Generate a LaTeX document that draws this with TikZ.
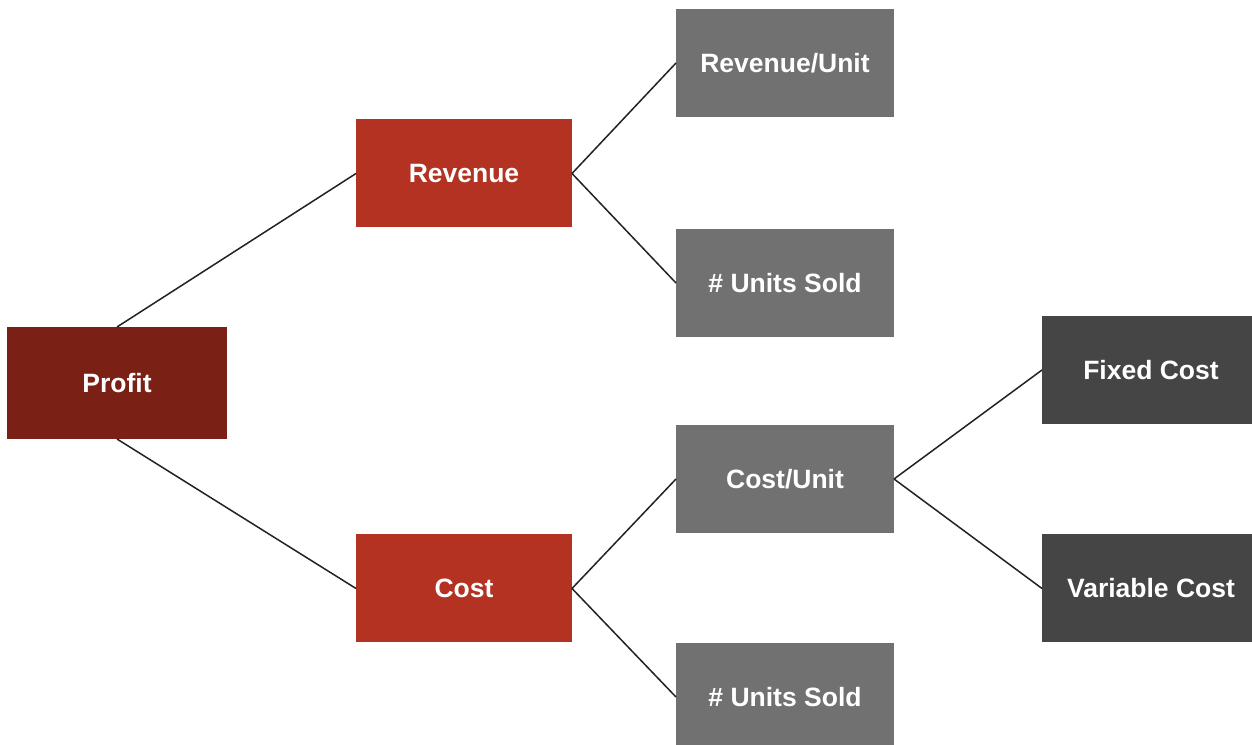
\documentclass[tikz,border=0pt]{standalone}
\usepackage{fontspec}
\setmainfont{Liberation Sans}
\definecolor{profitred}{HTML}{7B2014}
\definecolor{midred}{HTML}{B33222}
\definecolor{midgray}{HTML}{717171}
\definecolor{darkgray}{HTML}{454545}
\definecolor{linegray}{HTML}{222222}
\begin{document}
\begin{tikzpicture}[x=1pt,y=1pt,
  box/.style={rectangle, inner sep=0pt, outer sep=0pt, minimum width=218pt, minimum height=108pt,
    text=white, font=\fontsize{26.5}{30}\selectfont\bfseries},
  lvlzero/.style={box, fill=profitred, minimum width=220pt, minimum height=112pt},
  lvlone/.style={box, fill=midred, minimum width=216pt, minimum height=108pt},
  lvltwo/.style={box, fill=midgray},
  lvlthree/.style={box, fill=darkgray},
  link/.style={draw=linegray, line width=1.5pt}]
\clip (0,0) rectangle (1252,744);
\useasboundingbox (0,0) rectangle (1252,744);
\fill[white] (0,0) rectangle (1252,744);
\node[lvlzero] (profit) at (117,361) {Profit};
\node[lvlone] (rev) at (464,570.5) {Revenue};
\node[lvlone] (cost) at (464,155.5) {Cost};
\node[lvltwo] (revunit) at (785,681) {Revenue/Unit};
\node[lvltwo] (units1) at (785,461) {\# Units Sold};
\node[lvltwo] (costunit) at (785,265) {Cost/Unit};
\node[lvltwo] (units2) at (785,47) {\# Units Sold};
\node[lvlthree] (fixed) at (1151,374) {Fixed Cost};
\node[lvlthree] (var) at (1151,155.5) {Variable Cost};
\draw[link] (profit.north) -- (rev.west);
\draw[link] (profit.south) -- (cost.west);
\draw[link] (rev.east) -- (revunit.west);
\draw[link] (rev.east) -- (units1.west);
\draw[link] (cost.east) -- (costunit.west);
\draw[link] (cost.east) -- (units2.west);
\draw[link] (costunit.east) -- (fixed.west);
\draw[link] (costunit.east) -- (var.west);
\end{tikzpicture}
\end{document}
